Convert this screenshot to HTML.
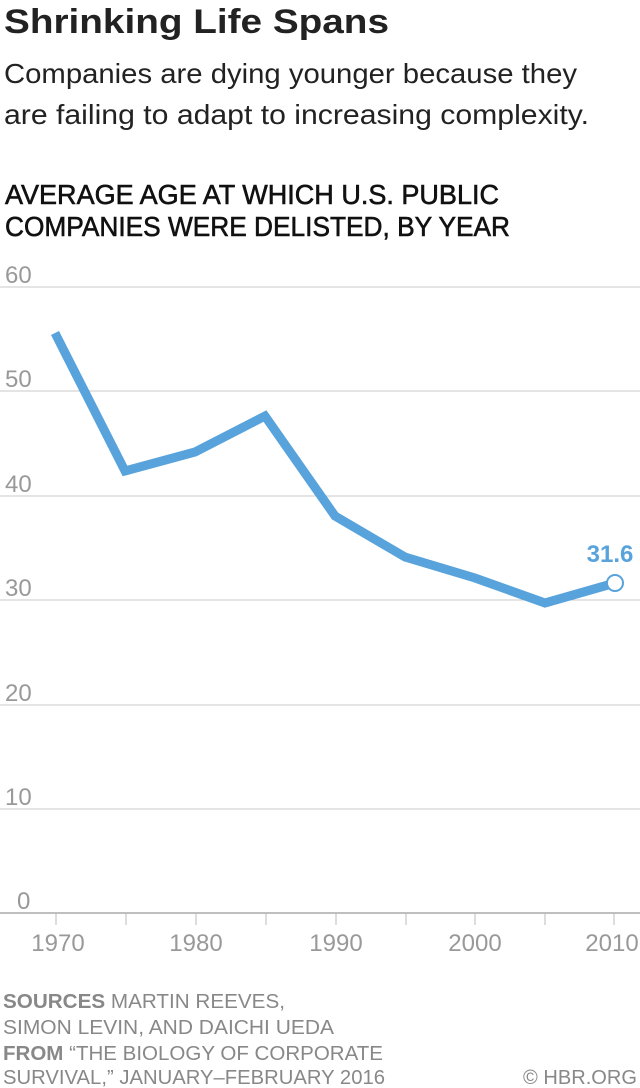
<!DOCTYPE html>
<html><head><meta charset="utf-8"><style>
html,body{margin:0;padding:0;background:#fff;width:640px;height:1088px;overflow:hidden}
svg{display:block}
text{font-family:"Liberation Sans",sans-serif}
</style></head><body>
<svg width="640" height="1088" viewBox="0 0 640 1088" xmlns="http://www.w3.org/2000/svg">
<text x="4" y="33" font-size="34" font-weight="bold" fill="#222" textLength="385" lengthAdjust="spacingAndGlyphs">Shrinking Life Spans</text>
<text x="4" y="83" font-size="28" fill="#222" textLength="573" lengthAdjust="spacingAndGlyphs">Companies are dying younger because they</text>
<text x="4" y="124" font-size="28" fill="#222" textLength="585" lengthAdjust="spacingAndGlyphs">are failing to adapt to increasing complexity.</text>
<g stroke="#111" stroke-width="0.6">
<text x="5" y="204" font-size="28" fill="#111" textLength="494" lengthAdjust="spacingAndGlyphs">AVERAGE AGE AT WHICH U.S. PUBLIC</text>
<text x="5" y="236" font-size="28" fill="#111" textLength="505" lengthAdjust="spacingAndGlyphs">COMPANIES WERE DELISTED, BY YEAR</text>
</g>
<g stroke="#c8c8c8" stroke-width="1">
<line x1="0" y1="287" x2="640" y2="287"/><line x1="0" y1="391" x2="640" y2="391"/>
<line x1="0" y1="496" x2="640" y2="496"/><line x1="0" y1="600" x2="640" y2="600"/>
<line x1="0" y1="705" x2="640" y2="705"/><line x1="0" y1="809" x2="640" y2="809"/>
</g>
<line x1="0" y1="913" x2="640" y2="913" stroke="#aaa" stroke-width="1.5"/>
<g stroke="#bbb" stroke-width="1">
<line x1="56" y1="913" x2="56" y2="925"/><line x1="126" y1="913" x2="126" y2="925"/>
<line x1="196" y1="913" x2="196" y2="925"/><line x1="266" y1="913" x2="266" y2="925"/>
<line x1="336" y1="913" x2="336" y2="925"/><line x1="406" y1="913" x2="406" y2="925"/>
<line x1="475" y1="913" x2="475" y2="925"/><line x1="545" y1="913" x2="545" y2="925"/>
<line x1="614" y1="913" x2="614" y2="925"/>
</g>
<g font-size="24" fill="#999">
<text x="5" y="283">60</text><text x="5" y="387">50</text><text x="5" y="492">40</text>
<text x="5" y="596">30</text><text x="5" y="701">20</text><text x="5" y="805">10</text>
<text x="17" y="909">0</text>
</g>
<g font-size="24" fill="#999" text-anchor="middle">
<text x="58" y="951">1970</text><text x="196" y="951">1980</text><text x="336" y="951">1990</text>
<text x="475" y="951">2000</text><text x="612" y="951">2010</text>
</g>
<polyline points="55,333 125,471 195,452 265,416 335,516 405,557 475,578 545,603 615,583" fill="none" stroke="#58a3dc" stroke-width="9" stroke-linejoin="miter"/>
<circle cx="615" cy="583" r="8" fill="#fff" stroke="#58a3dc" stroke-width="2"/>
<text x="610" y="562" font-size="24" font-weight="bold" fill="#58a3dc" text-anchor="middle">31.6</text>
<g font-size="20" fill="#888">
<text x="3" y="1008" textLength="282" lengthAdjust="spacingAndGlyphs"><tspan font-weight="bold">SOURCES</tspan>  MARTIN REEVES,</text>
<text x="3" y="1034" textLength="331" lengthAdjust="spacingAndGlyphs">SIMON LEVIN, AND DAICHI UEDA</text>
<text x="3" y="1060" textLength="380" lengthAdjust="spacingAndGlyphs"><tspan font-weight="bold">FROM</tspan>  “THE BIOLOGY OF CORPORATE</text>
<text x="3" y="1084" textLength="382" lengthAdjust="spacingAndGlyphs">SURVIVAL,” JANUARY–FEBRUARY 2016</text>
<text x="637" y="1084" text-anchor="end" textLength="114" lengthAdjust="spacingAndGlyphs">© HBR.ORG</text>
</g>
</svg>
</body></html>
